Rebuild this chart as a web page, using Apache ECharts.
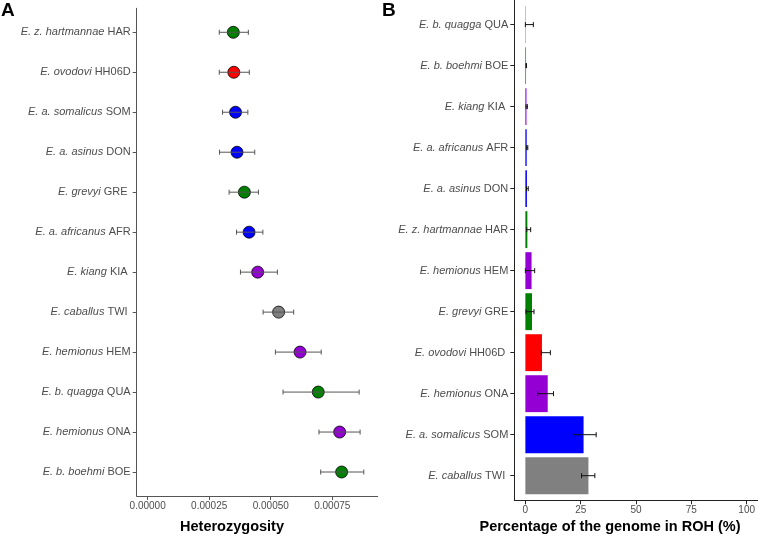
<!DOCTYPE html>
<html><head><meta charset="utf-8">
<script src="https://cdn.jsdelivr.net/npm/echarts@6/dist/echarts.min.js"></script>
<style>html,body{margin:0;padding:0;background:#fff}#c{width:758px;height:536px}</style>
</head><body><div id="c"></div>
<script>
// ---------- Panel A: heterozygosity ----------
const speciesA = ['E. z. hartmannae', 'E. ovodovi', 'E. a. somalicus', 'E. a. asinus', 'E. grevyi', 'E. a. africanus', 'E. kiang', 'E. caballus', 'E. hemionus', 'E. b. quagga', 'E. hemionus', 'E. b. boehmi'];
const codeA = ['HAR', 'HH06D', 'SOM', 'DON', 'GRE ', 'AFR', 'KIA ', 'TWI ', 'HEM', 'QUA', 'ONA', 'BOE'];
const groupA = ['zebra', 'ovodovi', 'ass', 'ass', 'zebra', 'ass', 'hemione', 'horse', 'hemione', 'zebra', 'hemione', 'zebra'];
const hetMean = [0.000348, 0.000350, 0.000357, 0.000363, 0.000393, 0.000412, 0.000447, 0.000532, 0.000619, 0.000693, 0.000780, 0.000788];
const hetLow  = [0.000291, 0.000291, 0.000304, 0.000292, 0.000331, 0.000361, 0.000377, 0.000469, 0.000519, 0.000550, 0.000696, 0.000703];
const hetHigh = [0.000409, 0.000413, 0.000407, 0.000435, 0.000450, 0.000468, 0.000527, 0.000593, 0.000705, 0.000859, 0.000863, 0.000878];
const tickA = [0, 0.00025, 0.0005, 0.00075];

// ---------- Panel B: ROH ----------
const speciesB = ['E. b. quagga', 'E. b. boehmi', 'E. kiang', 'E. a. africanus', 'E. a. asinus', 'E. z. hartmannae', 'E. hemionus', 'E. grevyi', 'E. ovodovi', 'E. hemionus', 'E. a. somalicus', 'E. caballus'];
const codeB = ['QUA', 'BOE', 'KIA ', 'AFR', 'DON', 'HAR', 'HEM', 'GRE', 'HH06D ', 'ONA', 'SOM', 'TWI '];
const groupB = ['zebra', 'zebra', 'hemione', 'ass', 'ass', 'zebra', 'hemione', 'zebra', 'ovodovi', 'hemione', 'ass', 'horse'];
const rohMean = [0.15, 0.3, 0.5, 0.6, 0.7, 0.9, 2.8, 3.0, 7.5, 10.1, 26.3, 28.5];
const rohLow  = [0.0, 0.3, 0.3, 0.6, 0.5, 0.6, 0.0, 0.3, 7.2, 5.5, 21.8, 25.4];
const rohHigh = [3.6, 0.5, 0.9, 1.1, 1.3, 2.4, 4.2, 3.9, 11.3, 12.7, 32.0, 31.4];
const tickB = [0, 25, 50, 75, 100];

const colorMap = {zebra: '#008000', ovodovi: '#FF0000', ass: '#0000FF', hemione: '#9400D3', horse: '#808080'};
const FONT = "'Liberation Sans', Arial, Helvetica, sans-serif";
const rowsA = speciesA.map((_, i) => i);
const rowsB = speciesB.map((_, i) => i);

function catFormatter(sp, code) {
  return function (v) { const i = Math.round(v); return '{i|' + sp[i] + '} ' + code[i]; };
}
function errRender(color, cap) {
  return function (params, api) {
    const y = api.value(0);
    const a = api.coord([api.value(1), y]);
    const b = api.coord([api.value(2), y]);
    const st = {stroke: color, lineWidth: 1};
    return {type: 'group', children: [
      {type: 'line', shape: {x1: a[0], y1: a[1], x2: b[0], y2: b[1]}, style: st},
      {type: 'line', shape: {x1: a[0], y1: a[1] - cap, x2: a[0], y2: a[1] + cap}, style: st},
      {type: 'line', shape: {x1: b[0], y1: b[1] - cap, x2: b[0], y2: b[1] + cap}, style: st}
    ]};
  };
}
function yAxisCfg(grid, rows, sp, code, lineColor) {
  return {
    gridIndex: grid, type: 'value', inverse: true, min: -0.6, max: 11.6,
    splitLine: {show: false},
    axisLine: {show: true, onZero: false, lineStyle: {color: lineColor, width: 1}},
    axisTick: {show: true, customValues: rows, length: 4, lineStyle: {color: lineColor}},
    axisLabel: {
      show: true, customValues: rows, formatter: catFormatter(sp, code), margin: 6,
      color: '#4d4d4d', fontSize: 11, fontFamily: FONT,
      rich: {i: {fontStyle: 'italic', color: '#4d4d4d', fontSize: 11, fontFamily: FONT}}
    }
  };
}
function xAxisCfg(grid, min, max, ticks, fmt, lineColor) {
  return {
    gridIndex: grid, type: 'value', min: min, max: max,
    splitLine: {show: false},
    axisLine: {show: true, onZero: false, lineStyle: {color: lineColor, width: 1}},
    axisTick: {show: true, customValues: ticks, length: 4, lineStyle: {color: lineColor}},
    axisLabel: {show: true, customValues: ticks, formatter: fmt, margin: 5, color: '#4d4d4d', fontSize: 10, fontFamily: FONT}
  };
}

const chart = echarts.init(document.getElementById('c'), null, {renderer: 'canvas'});
chart.setOption({
  animation: false,
  backgroundColor: '#fff',
  grid: [
    {left: 136.7, top: 8.3, width: 241, height: 487.7},
    {left: 514.3, top: 0, width: 245, height: 500.3}
  ],
  xAxis: [
    xAxisCfg(0, -0.0000445, 0.0009345, tickA, v => v.toFixed(5), '#555'),
    xAxisCfg(1, -5, 105, tickB, v => String(Math.round(v)), '#222')
  ],
  yAxis: [
    yAxisCfg(0, rowsA, speciesA, codeA, '#555'),
    yAxisCfg(1, rowsB, speciesB, codeB, '#222')
  ],
  series: [
    {
      type: 'scatter', xAxisIndex: 0, yAxisIndex: 0, z: 2,
      symbolSize: 12,
      itemStyle: {borderColor: '#000', borderWidth: 0.8, opacity: 1},
      data: hetMean.map((v, i) => ({value: [v, i], itemStyle: {color: colorMap[groupA[i]]}}))
    },
    {
      type: 'custom', xAxisIndex: 0, yAxisIndex: 0, z: 3,
      renderItem: errRender('#555', 2.5),
      encode: {x: [1, 2], y: 0},
      data: hetLow.map((lo, i) => [i, lo, hetHigh[i]])
    },
    {
      type: 'custom', xAxisIndex: 1, yAxisIndex: 1, z: 2,
      renderItem: function (params, api) {
        const y = api.value(0);
        const p0 = api.coord([0, y]);
        const p1 = api.coord([api.value(1), y]);
        const h = api.size([0, 0.9])[1];
        return {type: 'rect', shape: {x: p0[0], y: p0[1] - h / 2, width: p1[0] - p0[0], height: h},
                style: {fill: colorMap[groupB[params.dataIndex]]}};
      },
      encode: {x: 1, y: 0},
      data: rohMean.map((v, i) => [i, v])
    },
    {
      type: 'custom', xAxisIndex: 1, yAxisIndex: 1, z: 3,
      renderItem: errRender('#111', 2.5),
      encode: {x: [1, 2], y: 0},
      data: rohLow.map((lo, i) => [i, lo, rohHigh[i]])
    }
  ],
  graphic: [
    {type: 'text', left: 1, top: 1, style: {text: 'A', fontSize: 19, fontWeight: 'bold', fontFamily: FONT, fill: '#000'}},
    {type: 'text', left: 382, top: 1, style: {text: 'B', fontSize: 19, fontWeight: 'bold', fontFamily: FONT, fill: '#000'}},
    {type: 'text', x: 232, y: 527, style: {text: 'Heterozygosity', fontSize: 14.5, fontWeight: 'bold', fontFamily: FONT, fill: '#000', textAlign: 'center', textVerticalAlign: 'middle'}},
    {type: 'text', x: 610, y: 527, style: {text: 'Percentage of the genome in ROH (%)', fontSize: 14.5, fontWeight: 'bold', fontFamily: FONT, fill: '#000', textAlign: 'center', textVerticalAlign: 'middle'}}
  ]
});
</script>
</body></html>
